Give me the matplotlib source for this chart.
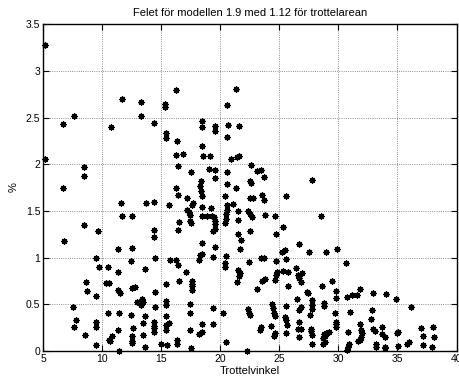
import matplotlib
matplotlib.use("Agg")
import matplotlib.pyplot as plt
import numpy as np

plt.rcParams['font.family'] = ['Liberation Sans', 'DejaVu Sans']

title = "Felet för modellen 1.9 med 1.12 för trottelarean"
xlabel = "Trottelvinkel"
ylabel = "%"
xticks = [5, 10, 15, 20, 25, 30, 35, 40]
yticks = [0, 0.5, 1, 1.5, 2, 2.5, 3, 3.5]
ytick_labels = ["0", "0.5", "1", "1.5", "2", "2.5", "3", "3.5"]

pts_left = [
    (5.14,3.28),(11.70,2.70),(13.28,2.67),(16.27,2.80),(15.34,2.65),(15.34,2.61),(7.65,2.52),(13.28,2.52),
    (6.66,2.43),(10.72,2.40),(14.36,2.44),(15.37,2.33),(15.37,2.28),(16.33,2.25),(16.27,2.10),(5.17,2.06),
    (8.49,1.97),(8.44,1.87),(16.41,1.98),(6.69,1.75),(16.27,1.75),
    (16.41,1.67),(11.59,1.58),(13.68,1.58),(14.36,1.60),(15.63,1.56),(11.65,1.45),(12.50,1.45),(8.44,1.35),
    (9.62,1.28),(16.52,1.38),(16.41,1.30),(14.36,1.30),(14.36,1.22),(6.75,1.18),(11.37,1.09),(12.52,1.10),
    (9.45,0.99),(9.71,0.90),(10.52,0.90),(12.46,0.96),(14.44,0.99),(15.71,0.97),(16.27,0.97),(16.41,0.92),
    (11.37,0.85),(13.65,0.88),(8.63,0.74),(10.30,0.73),(10.58,0.73),(15.45,0.72),(16.50,0.75),(8.69,0.64),
    (9.45,0.59),(11.31,0.65),(11.53,0.62),(12.52,0.67),(12.78,0.68),(14.47,0.63),(13.37,0.55),(13.48,0.52),
    (13.31,0.49),(12.92,0.52),(14.44,0.47),(15.40,0.53),(15.45,0.49),(7.54,0.47),(10.49,0.41),(11.45,0.41),
    (12.46,0.38),(13.65,0.37),(13.43,0.30),(15.40,0.37),(15.63,0.30),(15.45,0.28),(14.40,0.31),(14.40,0.27),
    (14.40,0.24),(14.40,0.20),(7.76,0.33),(7.59,0.25),(9.48,0.31),(9.45,0.26),(12.58,0.24),(11.37,0.22),
    (15.45,0.22),(8.58,0.17),(10.81,0.16),(10.61,0.12),(10.69,0.10),(12.52,0.16),(12.52,0.10),(12.52,0.08),
    (13.43,0.17),(16.30,0.12),(16.33,0.07),(9.45,0.06),(13.62,0.04),(15.00,0.07),(15.48,0.06),(11.45,0.00),
]
pts_mid = [
    (21.37,2.81),(20.61,2.64),(18.50,2.46),(18.50,2.40),(19.54,2.41),(19.54,2.36),(20.70,2.42),(21.57,2.41),
    (20.61,2.29),(18.50,2.20),(16.89,2.11),(18.58,2.09),(19.12,2.09),(20.95,2.06),(21.46,2.08),(21.57,2.09),
    (17.51,1.92),(19.09,1.95),(19.54,1.94),(20.58,1.92),(19.57,1.85),(22.59,1.99),(23.15,1.93),(23.49,1.94),
    (23.68,1.86),(22.54,1.82),(22.62,1.80),(18.36,1.82),(18.33,1.77),(20.58,1.79),(21.37,1.75),
    (18.41,1.71),(18.47,1.66),(17.23,1.64),(20.41,1.66),(22.50,1.64),(22.78,1.64),(23.57,1.67),(23.68,1.62),
    (25.60,1.66),(17.70,1.58),(17.57,1.56),(17.23,1.51),(17.34,1.49),(19.20,1.53),(18.44,1.54),(20.58,1.56),
    (20.58,1.51),(21.12,1.57),(21.48,1.50),(22.39,1.50),(22.50,1.47),(22.73,1.43),(23.76,1.46),(24.61,1.45),
    (17.48,1.46),(18.44,1.45),(18.89,1.45),(19.29,1.44),(19.48,1.43),(19.56,1.39),(19.60,1.36),(19.56,1.31),
    (19.43,1.28),(20.52,1.47),(20.46,1.41),(20.41,1.37),(21.51,1.40),(17.48,1.39),(17.53,1.37),(22.50,1.28),
    (25.29,1.33),(21.51,1.25),(21.80,1.19),(24.69,1.25),(18.47,1.16),(26.64,1.14),(19.56,1.11),(21.71,1.09),
    (25.52,1.08),(25.20,1.06),(27.51,1.06),(18.44,1.04),(18.33,1.03),(19.43,1.01),(20.52,1.02),(18.21,0.97),
    (20.41,0.94),(20.38,0.90),(22.44,0.95),(23.48,0.99),(23.68,0.99),(24.72,0.96),(25.57,0.98),(26.44,0.89),
    (26.58,0.81),(26.64,0.78),(24.80,0.85),(25.31,0.86),(25.71,0.84),(21.51,0.87),(21.65,0.83),(21.59,0.80),
    (17.14,0.84),(17.59,0.75),(17.65,0.72),(17.65,0.69),(17.59,0.65),(21.46,0.74),(23.57,0.75),(23.76,0.77),
    (24.64,0.76),(24.76,0.81),(23.11,0.66),(25.71,0.69),(27.37,0.63),(26.49,0.55),(26.81,0.47),(26.67,0.44),
    (17.48,0.50),(19.40,0.46),(22.39,0.45),(22.44,0.41),(22.50,0.38),(24.38,0.50),(24.47,0.46),(24.55,0.41),
    (24.64,0.37),(25.60,0.48),(17.48,0.40),(20.24,0.41),(25.45,0.36),(25.60,0.33),(25.65,0.28),(26.67,0.31),
    (26.81,0.23),(26.58,0.23),(18.50,0.29),(19.43,0.29),(24.32,0.27),(23.48,0.25),(23.34,0.22),(17.48,0.22),
    (18.47,0.20),(18.21,0.18),(24.61,0.19),(24.55,0.16),(25.60,0.19),(26.64,0.15),(20.52,0.09),(17.51,0.03),
    (22.27,0.00),
]
pts_right = [
    (27.80,1.83),(28.56,1.44),(28.98,1.06),(29.85,1.09),(30.67,0.94),(26.92,0.83),(26.81,0.74),(29.46,0.75),
    (28.58,0.69),(27.46,0.62),(29.77,0.64),(29.77,0.57),(30.75,0.58),(31.14,0.60),(31.57,0.60),(31.80,0.66),
    (32.97,0.62),(34.02,0.61),(34.84,0.55),(36.11,0.47),(27.80,0.54),(27.75,0.49),(27.75,0.45),(28.75,0.51),
    (28.78,0.48),(27.57,0.38),(29.74,0.40),(32.83,0.44),(30.97,0.42),(32.75,0.34),(29.77,0.31),(29.77,0.29),
    (29.80,0.26),(27.71,0.23),(27.71,0.21),(31.80,0.29),(31.91,0.22),(32.97,0.23),(33.06,0.21),(33.70,0.25),
    (33.70,0.18),(33.99,0.15),(35.06,0.20),(34.98,0.19),(37.01,0.24),(38.05,0.25),(37.16,0.16),(38.08,0.15),
    (27.80,0.17),(28.75,0.18),(28.98,0.19),(29.17,0.20),(28.83,0.16),(28.69,0.14),(28.86,0.09),(28.69,0.07),
    (27.75,0.07),(30.81,0.20),(31.80,0.12),(31.66,0.11),(31.91,0.15),(31.97,0.19),(30.89,0.07),(30.81,0.04),
    (30.72,0.01),(33.15,0.07),(33.15,0.04),(33.99,0.03),(33.91,0.04),(35.06,0.05),(35.83,0.07),(35.94,0.09),
    (37.16,0.06),(37.94,0.04),
]

pts = pts_left + pts_mid + pts_right
x_vals = [p[0] for p in pts]
y_vals = [p[1] for p in pts]

fig = plt.figure(figsize=(4.59, 3.78), dpi=100)
ax = fig.add_axes([43/459, 1 - 350.8/378, (456.5 - 43)/459, (350.8 - 24.3)/378])

ax.plot(x_vals, y_vals, linestyle='none', marker=(8, 2, 0), markersize=4.5,
        markeredgewidth=0.9, color='black', clip_on=False, zorder=3)

ax.set_xlim(5, 40)
ax.set_ylim(0, 3.5)
ax.set_xticks(xticks)
ax.set_yticks(yticks)
ax.set_yticklabels(ytick_labels)
ax.tick_params(direction='in', top=True, right=True, labelsize=7.5, length=4, width=0.8, pad=2)
ax.grid(True, linestyle=':', color='black', linewidth=0.6, alpha=0.6)
for s in ax.spines.values():
    s.set_linewidth(1.0)

ax.set_title(title, fontsize=8, pad=6)
ax.set_xlabel(xlabel, fontsize=8)
ax.set_ylabel(ylabel, fontsize=8)
ax.xaxis.set_label_coords(0.5, -0.047)
ax.yaxis.set_label_coords(-0.06, 0.5)

fig.savefig("out.png", dpi=100)
